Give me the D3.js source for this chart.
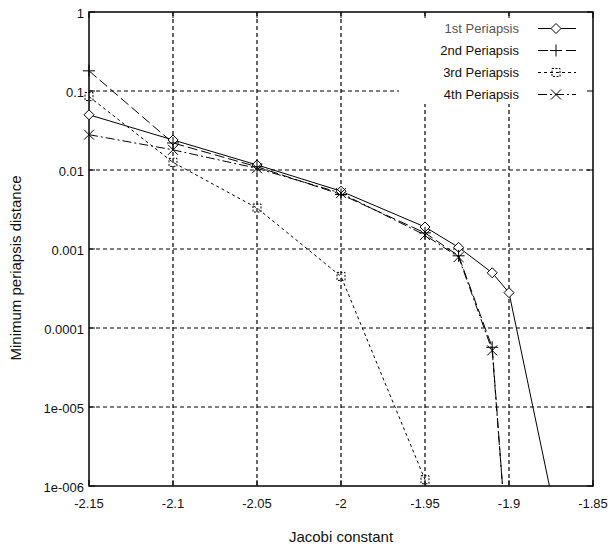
<!DOCTYPE html>
<html>
<head>
<meta charset="utf-8">
<script src="https://cdn.jsdelivr.net/npm/d3@7"></script>
<style>
  body { margin: 0; background: #fff; }
  text { font-family: "Liberation Sans", Arial, sans-serif; fill: #111; }
</style>
</head>
<body>
<div id="chart"></div>
<script>
var width = 608;
var height = 548;

// data ------------------------------------------------------------
var xTicks = [-2.15, -2.1, -2.05, -2, -1.95, -1.9, -1.85];
var xTickLabels = ["-2.15", "-2.1", "-2.05", "-2", "-1.95", "-1.9", "-1.85"];
var yTicks = [1, 0.1, 0.01, 0.001, 0.0001, 0.00001, 0.000001];
var yTickLabels = ["1", "0.1", "0.01", "0.001", "0.0001", "1e-005", "1e-006"];

var seriesNames = ["1st Periapsis", "2nd Periapsis", "3rd Periapsis", "4th Periapsis"];

var periapsis1X = [-2.15, -2.1, -2.05, -2, -1.95, -1.93, -1.91, -1.9, -1.87];
var periapsis1Y = [0.05, 0.024, 0.0116, 0.0054, 0.0019, 0.00105, 0.0005, 0.00028, 2.5e-7];

var periapsis2X = [-2.15, -2.1, -2.05, -2, -1.95, -1.93, -1.91, -1.9];
var periapsis2Y = [0.18, 0.022, 0.011, 0.0049, 0.0016, 0.00082, 5.7e-5, 8e-8];

var periapsis3X = [-2.15, -2.1, -2.05, -2, -1.95];
var periapsis3Y = [0.085, 0.0125, 0.0033, 0.00045, 1.2e-6];

var periapsis4X = [-2.15, -2.1, -2.05, -2, -1.95, -1.93, -1.91, -1.9];
var periapsis4Y = [0.028, 0.018, 0.0105, 0.0051, 0.0015, 0.00079, 5.2e-5, 8e-8];

var xData = [periapsis1X, periapsis2X, periapsis3X, periapsis4X];
var yData = [periapsis1Y, periapsis2Y, periapsis3Y, periapsis4Y];

// styles per series
var dashes = [null, "10,4", "3,3", "9,3,2,3"];
var markers = ["diamond", "plus", "square", "cross"];

// layout ------------------------------------------------------------
var plotLeft = 89, plotRight = 593, plotTop = 12, plotBottom = 486;

var xScale = d3.scaleLinear()
  .domain([-2.15, -1.85])
  .range([plotLeft, plotRight]);

var yScale = d3.scaleLog()
  .domain([1e-6, 1])
  .range([plotBottom, plotTop]);

var svg = d3.select("#chart")
  .append("svg")
  .attr("width", width)
  .attr("height", height);

svg.append("rect")
  .attr("width", width)
  .attr("height", height)
  .attr("fill", "#fff");

svg.append("clipPath")
  .attr("id", "plotClip")
  .append("rect")
  .attr("x", plotLeft)
  .attr("y", plotTop)
  .attr("width", plotRight - plotLeft)
  .attr("height", plotBottom - plotTop);

// grid -------------------------------------------------------------
var grid = svg.append("g");

grid.selectAll(".vgrid")
  .data(xTicks.slice(1, -1))
  .enter()
  .append("line")
    .attr("x1", function(d) { return xScale(d); })
    .attr("x2", function(d) { return xScale(d); })
    .attr("y1", plotTop)
    .attr("y2", plotBottom)
    .attr("stroke", "#000")
    .attr("stroke-width", 1.2)
    .attr("stroke-dasharray", "4,3");

grid.selectAll(".hgrid")
  .data(yTicks.slice(1, -1))
  .enter()
  .append("line")
    .attr("x1", plotLeft)
    .attr("x2", plotRight)
    .attr("y1", function(d) { return yScale(d); })
    .attr("y2", function(d) { return yScale(d); })
    .attr("stroke", "#000")
    .attr("stroke-width", 1.2)
    .attr("stroke-dasharray", "4,3");

// series -------------------------------------------------------------
var plot = svg.append("g").attr("clip-path", "url(#plotClip)");
var points = svg.append("g");

var line = d3.line()
  .x(function(d) { return xScale(d.x); })
  .y(function(d) { return yScale(d.y); });

function markerPath(type, cx, cy) {
  var s = 5;
  if (type == "diamond") {
    return "M" + cx + "," + (cy - s) + "L" + (cx + s) + "," + cy + "L" + cx + "," + (cy + s) + "L" + (cx - s) + "," + cy + "Z";
  } else if (type == "plus") {
    return "M" + (cx - 6) + "," + cy + "H" + (cx + 6) + "M" + cx + "," + (cy - 6) + "V" + (cy + 6);
  } else if (type == "square") {
    return "M" + (cx - 4) + "," + (cy - 4) + "H" + (cx + 4) + "V" + (cy + 4) + "H" + (cx - 4) + "Z";
  } else {
    return "M" + (cx - 5) + "," + (cy - 5) + "L" + (cx + 5) + "," + (cy + 5) + "M" + (cx + 5) + "," + (cy - 5) + "L" + (cx - 5) + "," + (cy + 5);
  }
}

for (var i = 0; i < xData.length; i++) {
  var pts = xData[i].map(function(x, j) { return {x: x, y: yData[i][j]}; });

  plot.append("path")
    .datum(pts)
    .attr("d", line)
    .attr("fill", "none")
    .attr("stroke", "#000")
    .attr("stroke-width", 1)
    .attr("stroke-dasharray", dashes[i]);

  var type = markers[i];
  points.selectAll(".m" + i)
    .data(pts.filter(function(d) { return d.y >= 1e-6; }))
    .enter()
    .append("path")
      .attr("d", function(d) { return markerPath(type, xScale(d.x), yScale(d.y)); })
      .attr("fill", type == "diamond" ? "#fff" : "none")
      .attr("stroke", "#000")
      .attr("stroke-width", 1)
      .attr("stroke-dasharray", type == "square" ? "2,1.5" : null);
}

// legend -------------------------------------------------------------
var legend = svg.append("g");

legend.append("rect")
  .attr("x", 399)
  .attr("y", 16)
  .attr("width", 193)
  .attr("height", 88)
  .attr("fill", "#fff");

seriesNames.forEach(function(name, i) {
  var ly = 28.5 + i * 22;
  legend.append("text")
    .attr("x", 519)
    .attr("y", ly)
    .attr("dy", "0.35em")
    .attr("text-anchor", "end")
    .attr("font-size", 13)
    .style("fill", i == 0 ? "#555" : "#111")
    .text(name);
  legend.append("line")
    .attr("x1", 538)
    .attr("x2", 576)
    .attr("y1", ly)
    .attr("y2", ly)
    .attr("stroke", "#000")
    .attr("stroke-width", 1)
    .attr("stroke-dasharray", dashes[i]);
  legend.append("path")
    .attr("d", markerPath(markers[i], 556, ly))
    .attr("fill", markers[i] == "diamond" ? "#fff" : "none")
    .attr("stroke", "#000")
    .attr("stroke-width", 1)
    .attr("stroke-dasharray", markers[i] == "square" ? "2,1.5" : null);
});

// frame and ticks ------------------------------------------------------
var frame = svg.append("g");

frame.append("rect")
  .attr("x", plotLeft)
  .attr("y", plotTop)
  .attr("width", plotRight - plotLeft)
  .attr("height", plotBottom - plotTop)
  .attr("fill", "none")
  .attr("stroke", "#000")
  .attr("stroke-width", 1.5);

xTicks.forEach(function(d) {
  frame.append("line")
    .attr("x1", xScale(d)).attr("x2", xScale(d))
    .attr("y1", plotBottom).attr("y2", plotBottom - 6)
    .attr("stroke", "#000");
  frame.append("line")
    .attr("x1", xScale(d)).attr("x2", xScale(d))
    .attr("y1", plotTop).attr("y2", plotTop + 6)
    .attr("stroke", "#000");
});

yTicks.forEach(function(d) {
  frame.append("line")
    .attr("x1", plotLeft).attr("x2", plotLeft + 6)
    .attr("y1", yScale(d)).attr("y2", yScale(d))
    .attr("stroke", "#000");
  frame.append("line")
    .attr("x1", plotRight).attr("x2", plotRight - 6)
    .attr("y1", yScale(d)).attr("y2", yScale(d))
    .attr("stroke", "#000");
});

// frame sits under the markers on the left edge
points.raise();

// tick labels
svg.selectAll(".xlabel")
  .data(xTicks)
  .enter()
  .append("text")
    .attr("x", function(d) { return xScale(d); })
    .attr("y", plotBottom + 17)
    .attr("dy", "0.35em")
    .attr("text-anchor", "middle")
    .attr("font-size", 13)
    .text(function(d, i) { return xTickLabels[i]; });

svg.selectAll(".ylabel")
  .data(yTicks)
  .enter()
  .append("text")
    .attr("x", plotLeft - 5)
    .attr("y", function(d) { return yScale(d) + 1; })
    .attr("dy", "0.35em")
    .attr("text-anchor", "end")
    .attr("font-size", 13)
    .text(function(d, i) { return yTickLabels[i]; });

// axis titles
svg.append("text")
  .attr("x", (plotLeft + plotRight) / 2)
  .attr("y", 537)
  .attr("dy", "0.35em")
  .attr("text-anchor", "middle")
  .attr("font-size", 15)
  .text("Jacobi constant");

svg.append("text")
  .attr("transform", "translate(16," + 268 + ") rotate(-90)")
  .attr("dy", "0.35em")
  .attr("text-anchor", "middle")
  .attr("font-size", 15)
  .text("Minimum periapsis distance");
</script>
</body>
</html>
